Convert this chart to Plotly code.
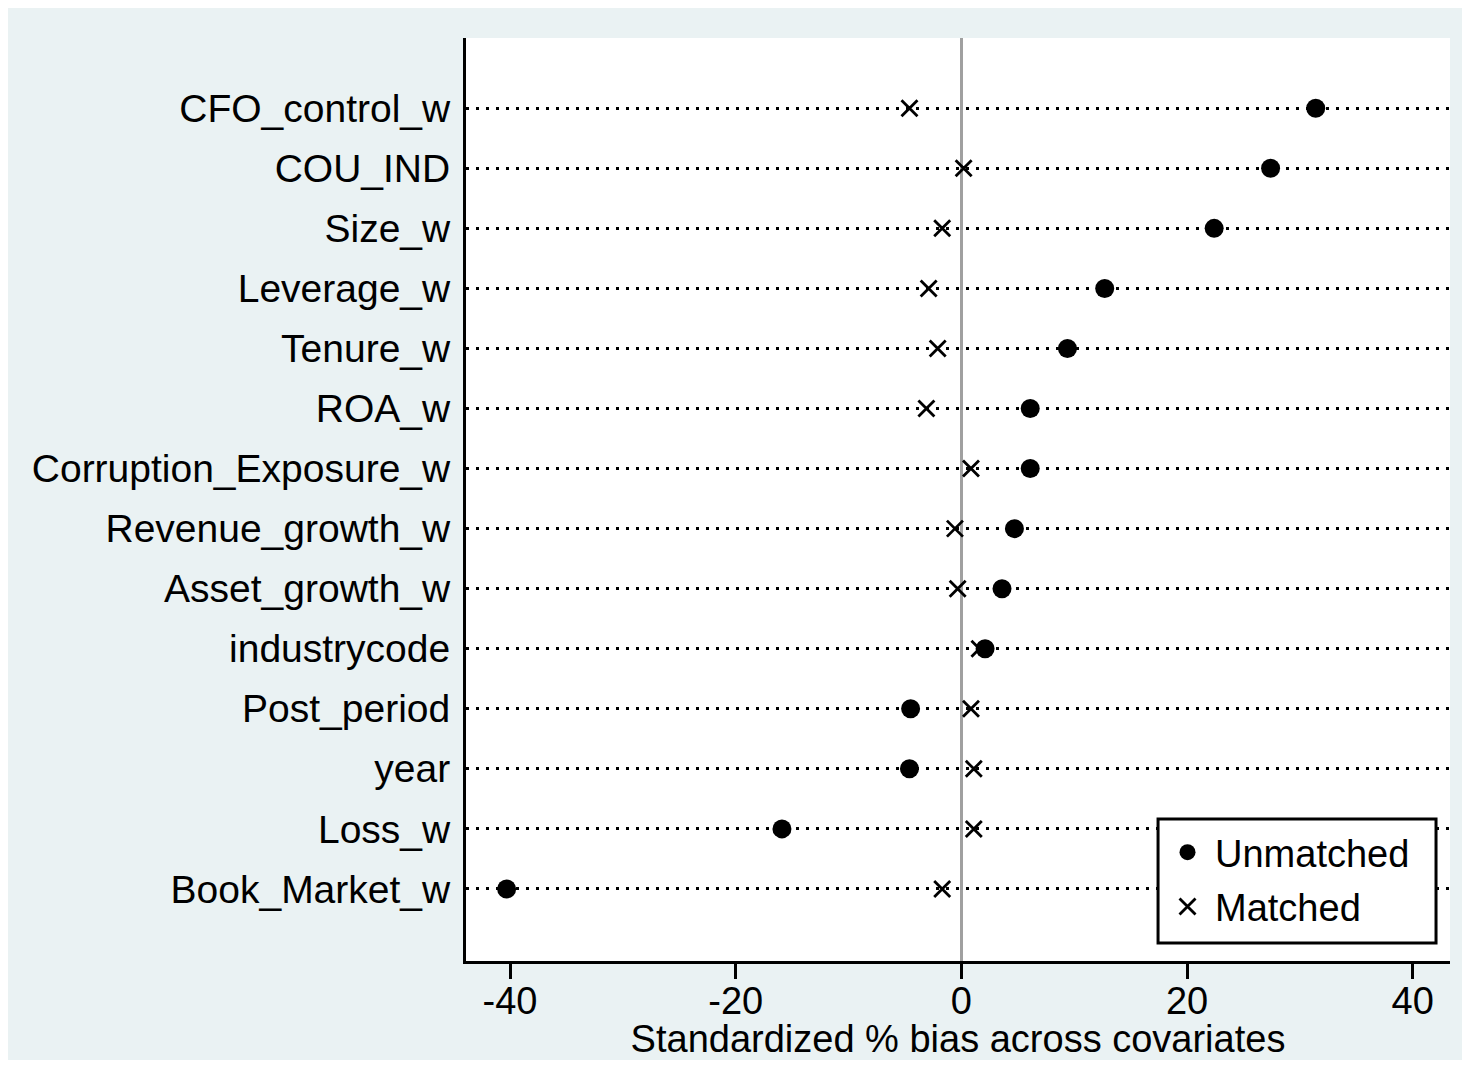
import plotly.graph_objects as go

# Covariates listed bottom to top
covariates = ["Book_Market_w", "Loss_w", "year", "Post_period", "industrycode",
              "Asset_growth_w", "Revenue_growth_w", "Corruption_Exposure_w", "ROA_w",
              "Tenure_w", "Leverage_w", "Size_w", "COU_IND", "CFO_control_w"]
unmatched = [-40.3, -15.9, -4.6, -4.5, 2.1, 3.6, 4.7, 6.1, 6.1, 9.4, 12.7, 22.4, 27.4, 31.4]
matched = [-1.7, 1.1, 1.1, 0.85, 1.6, -0.33, -0.57, 0.85, -3.1, -2.1, -2.9, -1.7, 0.2, -4.6]
x_ticks = [-40, -20, 0, 20, 40]

FONT = "Liberation Sans, Arial, sans-serif"
BG = "#eaf2f3"

fig = go.Figure()
fig.add_trace(go.Scatter(
    x=unmatched, y=covariates, mode="markers", name="Unmatched", legendgroup="u",
    marker=dict(symbol="circle", size=19, color="black", line=dict(width=0)),
))
fig.add_trace(go.Scatter(
    x=matched, y=covariates, mode="markers", name="Matched", legendgroup="m",
    marker=dict(symbol="x-thin-open", size=16, color="black",
                line=dict(width=2.8, color="black")),
))

# legend frame (white box with black border) drawn under the legend entries
fig.add_shape(type="rect", xref="paper", yref="paper",
              x0=0.7033, x1=0.9858, y0=0.0195, y1=0.1538,
              fillcolor="white", line=dict(color="black", width=3), layer="above")

W, H = 1462, 1052
fig.update_layout(
    width=W, height=H,
    paper_bgcolor=BG, plot_bgcolor="white",
    margin=dict(l=458, r=20, t=30, b=99, pad=0),
    font=dict(family=FONT, size=39, color="black"),
    showlegend=True,
    legend=dict(
        x=0.7053, y=0.1517, xanchor="left", yanchor="top",
        bgcolor="rgba(0,0,0,0)", borderwidth=0,
        font=dict(size=38, color="black"),
        itemsizing="trace", itemwidth=45, tracegroupgap=2,
    ),
    xaxis=dict(
        range=[-43.9, 43.3], tickvals=x_ticks, ticktext=[str(v) for v in x_ticks],
        showgrid=False, zeroline=True, zerolinecolor="#a0a0a0", zerolinewidth=3,
        showline=True, linecolor="black", linewidth=3,
        ticks="outside", ticklen=15, tickwidth=3, tickcolor="black",
        tickfont=dict(size=38), ticklabelstandoff=-11,
        automargin=False,
        title=dict(text="Standardized % bias across covariates", font=dict(size=38), standoff=4),
    ),
    yaxis=dict(
        type="category", categoryorder="array", categoryarray=covariates,
        range=[-1.2, 14.17], automargin=False,
        showgrid=True, gridcolor="black", gridwidth=3, griddash="3px,7px",
        zeroline=False,
        showline=True, linecolor="black", linewidth=3,
        ticks="", ticklabelstandoff=5,
        tickfont=dict(size=39),
    ),
)

fig.write_html("out.html")
